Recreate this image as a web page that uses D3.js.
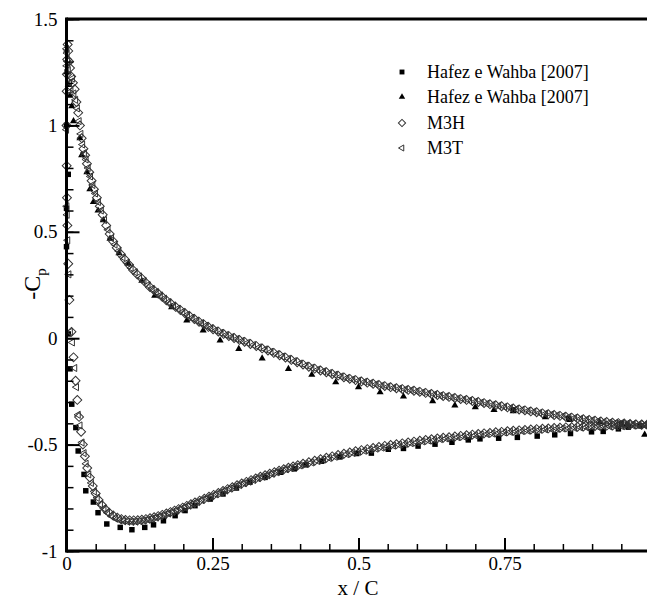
<!DOCTYPE html>
<html lang="en">
<head>
<meta charset="utf-8">
<script src="https://d3js.org/d3.v7.min.js"></script>
<style>
  body { margin: 0; background: #fff; }
  svg { display: block; }
  text { font-family: "Liberation Serif", "Times New Roman", serif; fill: #000; }
</style>
</head>
<body>
<div id="chart"></div>
<script>
// x / C and -Cp pairs
const hafezSquares = [[0.0,1.0],[0.003,0.77],[0.0,0.61],[0.0,0.43],[0.003,0.02],[0.006,-0.144],[0.009,-0.31],[0.016,-0.42],[0.020,-0.53],[0.030,-0.64],[0.033,-0.717],[0.046,-0.77],[0.054,-0.82],[0.069,-0.873],[0.092,-0.889],[0.112,-0.90],[0.134,-0.889],[0.149,-0.877],[0.166,-0.858],[0.186,-0.834],[0.203,-0.81],[0.22,-0.787],[0.246,-0.756],[0.268,-0.732],[0.291,-0.704],[0.314,-0.677],[0.34,-0.654],[0.366,-0.630],[0.39,-0.614],[0.41,-0.595],[0.437,-0.578],[0.468,-0.558],[0.497,-0.542],[0.522,-0.540],[0.551,-0.522],[0.577,-0.518],[0.602,-0.507],[0.631,-0.498],[0.66,-0.489],[0.688,-0.478],[0.708,-0.473],[0.74,-0.470],[0.772,-0.466],[0.806,-0.460],[0.836,-0.454],[0.863,-0.448],[0.899,-0.440],[0.919,-0.438],[0.945,-0.426],[0.962,-0.418],[0.982,-0.412],[0.765,-0.337],[0.86,-0.378],[0.95,-0.400]];

const hafezTriangles = [[0.0,1.25],[0.003,1.19],[0.006,1.14],[0.009,1.09],[0.012,1.02],[0.023,0.94],[0.026,0.86],[0.035,0.78],[0.040,0.70],[0.046,0.64],[0.054,0.60],[0.063,0.555],[0.0745,0.468],[0.090,0.40],[0.106,0.35],[0.129,0.27],[0.151,0.20],[0.18,0.146],[0.206,0.084],[0.234,0.037],[0.263,-0.01],[0.295,-0.05],[0.335,-0.095],[0.38,-0.144],[0.42,-0.172],[0.461,-0.207],[0.50,-0.23],[0.537,-0.254],[0.577,-0.274],[0.627,-0.296],[0.665,-0.316],[0.70,-0.324],[0.732,-0.337],[0.765,-0.343],[0.82,-0.371],[0.862,-0.384],[0.913,-0.395],[0.959,-0.406],[0.99,-0.453]];

const m3hUpper = [[0,1.00],[0.0003,1.16],[0.0007,1.24],[0.0012,1.31],[0.002,1.38],[0.003,1.35],[0.0045,1.30],[0.006,1.27],[0.008,1.23],[0.011,1.20],[0.014,1.17],[0.017,1.11],[0.020,1.06],[0.023,1.00],[0.026,0.94],[0.029,0.89],[0.032,0.86],[0.035,0.82],[0.039,0.78],[0.043,0.74],[0.047,0.70],[0.052,0.66],[0.057,0.62],[0.062,0.58],[0.068,0.53],[0.074,0.49],[0.080,0.455],[0.086,0.425],[0.093,0.395],[0.100,0.37],[0.107,0.345],[0.114,0.32],[0.121,0.30],[0.129,0.28],[0.136,0.26],[0.143,0.24],[0.150,0.225],[0.157,0.21],[0.164,0.194],[0.171,0.178],[0.179,0.162],[0.187,0.147],[0.195,0.132],[0.203,0.117],[0.211,0.103],[0.219,0.090],[0.227,0.077],[0.235,0.065],[0.243,0.053],[0.251,0.042],[0.260,0.031],[0.269,0.020],[0.278,0.010],[0.287,0.001],[0.296,-0.008],[0.305,-0.017],[0.315,-0.027],[0.325,-0.037],[0.335,-0.048],[0.345,-0.058],[0.355,-0.069],[0.365,-0.080],[0.375,-0.091],[0.385,-0.102],[0.395,-0.113],[0.405,-0.124],[0.415,-0.134],[0.425,-0.143],[0.435,-0.152],[0.445,-0.160],[0.455,-0.168],[0.465,-0.176],[0.475,-0.184],[0.485,-0.191],[0.495,-0.197],[0.505,-0.203],[0.515,-0.209],[0.525,-0.214],[0.535,-0.220],[0.545,-0.225],[0.555,-0.230],[0.565,-0.235],[0.575,-0.239],[0.585,-0.243],[0.595,-0.247],[0.605,-0.252],[0.615,-0.257],[0.625,-0.262],[0.635,-0.267],[0.645,-0.272],[0.655,-0.276],[0.665,-0.281],[0.675,-0.286],[0.685,-0.290],[0.695,-0.295],[0.705,-0.300],[0.715,-0.305],[0.725,-0.310],[0.735,-0.315],[0.745,-0.320],[0.755,-0.325],[0.765,-0.330],[0.775,-0.335],[0.785,-0.339],[0.795,-0.344],[0.805,-0.348],[0.815,-0.353],[0.825,-0.357],[0.835,-0.361],[0.845,-0.365],[0.855,-0.369],[0.865,-0.373],[0.875,-0.377],[0.885,-0.381],[0.895,-0.384],[0.905,-0.388],[0.915,-0.391],[0.925,-0.394],[0.935,-0.397],[0.945,-0.399],[0.955,-0.401],[0.965,-0.403],[0.975,-0.405],[0.985,-0.407],[0.995,-0.409]];

const m3hLower = [[0.0003,0.81],[0.0008,0.66],[0.0015,0.53],[0.003,0.35],[0.005,0.18],[0.0085,0.03],[0.012,-0.09],[0.0155,-0.20],[0.0185,-0.29],[0.0215,-0.37],[0.025,-0.44],[0.028,-0.50],[0.0315,-0.555],[0.0355,-0.61],[0.040,-0.655],[0.045,-0.695],[0.050,-0.73],[0.055,-0.76],[0.061,-0.785],[0.067,-0.805],[0.073,-0.82],[0.080,-0.833],[0.087,-0.843],[0.094,-0.85],[0.101,-0.854],[0.108,-0.856],[0.115,-0.856],[0.122,-0.855],[0.129,-0.853],[0.136,-0.85],[0.143,-0.846],[0.150,-0.841],[0.157,-0.836],[0.164,-0.83],[0.171,-0.824],[0.178,-0.817],[0.185,-0.81],[0.192,-0.803],[0.199,-0.796],[0.206,-0.788],[0.213,-0.78],[0.220,-0.772],[0.228,-0.763],[0.236,-0.754],[0.244,-0.745],[0.252,-0.736],[0.260,-0.727],[0.268,-0.718],[0.276,-0.709],[0.284,-0.700],[0.292,-0.691],[0.300,-0.683],[0.308,-0.675],[0.316,-0.667],[0.324,-0.659],[0.332,-0.651],[0.340,-0.644],[0.348,-0.637],[0.356,-0.630],[0.364,-0.623],[0.372,-0.616],[0.380,-0.609],[0.388,-0.603],[0.396,-0.597],[0.405,-0.590],[0.415,-0.583],[0.425,-0.576],[0.435,-0.569],[0.445,-0.562],[0.455,-0.555],[0.465,-0.549],[0.475,-0.543],[0.485,-0.537],[0.495,-0.531],[0.505,-0.526],[0.515,-0.521],[0.525,-0.516],[0.535,-0.511],[0.545,-0.506],[0.555,-0.502],[0.565,-0.498],[0.575,-0.494],[0.585,-0.490],[0.595,-0.486],[0.605,-0.482],[0.615,-0.478],[0.625,-0.475],[0.635,-0.471],[0.645,-0.468],[0.655,-0.465],[0.665,-0.462],[0.675,-0.459],[0.685,-0.456],[0.695,-0.453],[0.705,-0.450],[0.715,-0.447],[0.725,-0.445],[0.735,-0.442],[0.745,-0.440],[0.755,-0.437],[0.765,-0.435],[0.775,-0.433],[0.785,-0.431],[0.795,-0.429],[0.805,-0.427],[0.815,-0.425],[0.825,-0.424],[0.835,-0.422],[0.845,-0.421],[0.855,-0.419],[0.865,-0.418],[0.875,-0.416],[0.885,-0.415],[0.895,-0.414],[0.905,-0.413],[0.915,-0.412],[0.925,-0.411],[0.935,-0.410],[0.945,-0.409],[0.955,-0.408],[0.965,-0.407],[0.975,-0.406],[0.985,-0.405],[0.995,-0.404]];

const m3tUpper = [[0,1.36],[0.0005,1.28],[0.001,1.34],[0.0018,1.30],[0.003,1.26],[0.005,1.20],[0.0075,1.16],[0.010,1.22],[0.0125,1.15],[0.0155,1.12],[0.0185,1.08],[0.0215,1.02],[0.0245,0.96],[0.0275,0.91],[0.0305,0.87],[0.0335,0.84],[0.037,0.80],[0.041,0.76],[0.045,0.72],[0.0495,0.68],[0.0545,0.64],[0.0595,0.60],[0.065,0.555],[0.071,0.51],[0.077,0.47],[0.083,0.44],[0.0895,0.41],[0.0965,0.38],[0.1035,0.355],[0.1105,0.33],[0.1175,0.31],[0.125,0.29],[0.1325,0.27],[0.1395,0.25],[0.1465,0.232],[0.1535,0.217],[0.1605,0.201],[0.1675,0.186],[0.175,0.17],[0.183,0.154],[0.191,0.139],[0.199,0.124],[0.207,0.110],[0.215,0.096],[0.223,0.083],[0.231,0.071],[0.239,0.059],[0.247,0.047],[0.2555,0.036],[0.2645,0.025],[0.2735,0.015],[0.2825,0.005],[0.2915,-0.004],[0.3005,-0.013],[0.310,-0.022],[0.320,-0.032],[0.330,-0.043],[0.340,-0.053],[0.350,-0.064],[0.360,-0.075],[0.370,-0.086],[0.380,-0.097],[0.390,-0.108],[0.400,-0.119],[0.410,-0.129],[0.420,-0.139],[0.430,-0.148],[0.440,-0.156],[0.450,-0.164],[0.460,-0.172],[0.470,-0.180],[0.480,-0.188],[0.490,-0.194],[0.500,-0.200],[0.510,-0.206],[0.520,-0.212],[0.530,-0.217],[0.540,-0.223],[0.550,-0.228],[0.560,-0.233],[0.570,-0.237],[0.580,-0.241],[0.590,-0.245],[0.600,-0.250],[0.610,-0.255],[0.620,-0.260],[0.630,-0.265],[0.640,-0.270],[0.650,-0.274],[0.660,-0.279],[0.670,-0.284],[0.680,-0.288],[0.690,-0.293],[0.700,-0.298],[0.710,-0.303],[0.720,-0.308],[0.730,-0.313],[0.740,-0.318],[0.750,-0.323],[0.760,-0.328],[0.770,-0.333],[0.780,-0.337],[0.790,-0.342],[0.800,-0.346],[0.810,-0.351],[0.820,-0.355],[0.830,-0.359],[0.840,-0.363],[0.850,-0.367],[0.860,-0.371],[0.870,-0.375],[0.880,-0.379],[0.890,-0.383],[0.900,-0.386],[0.910,-0.390],[0.920,-0.393],[0.930,-0.396],[0.940,-0.398],[0.950,-0.400],[0.960,-0.402],[0.970,-0.404],[0.980,-0.406],[0.990,-0.408]];

const m3tLower = [[0,0.98],[0.0005,0.62],[0.001,0.58],[0.002,0.46],[0.004,0.30],[0.0065,0.03],[0.010,-0.02],[0.014,-0.14],[0.017,-0.23],[0.020,-0.36],[0.023,-0.41],[0.0265,-0.49],[0.030,-0.54],[0.0335,-0.59],[0.038,-0.64],[0.0425,-0.68],[0.0475,-0.72],[0.0525,-0.75],[0.058,-0.78],[0.064,-0.80],[0.070,-0.82],[0.0765,-0.835],[0.0835,-0.847],[0.0905,-0.855],[0.0975,-0.86],[0.1045,-0.862],[0.1115,-0.863],[0.1185,-0.862],[0.1255,-0.86],[0.1325,-0.857],[0.1395,-0.853],[0.1465,-0.848],[0.1535,-0.843],[0.1605,-0.837],[0.1675,-0.831],[0.1745,-0.824],[0.1815,-0.817],[0.1885,-0.81],[0.1955,-0.803],[0.2025,-0.795],[0.2095,-0.787],[0.2165,-0.779],[0.224,-0.77],[0.232,-0.761],[0.240,-0.752],[0.248,-0.743],[0.256,-0.734],[0.264,-0.725],[0.272,-0.716],[0.280,-0.707],[0.288,-0.698],[0.296,-0.690],[0.304,-0.682],[0.312,-0.674],[0.320,-0.666],[0.328,-0.658],[0.336,-0.651],[0.344,-0.644],[0.352,-0.637],[0.360,-0.630],[0.368,-0.623],[0.376,-0.616],[0.384,-0.610],[0.392,-0.604],[0.400,-0.598],[0.410,-0.591],[0.420,-0.584],[0.430,-0.577],[0.440,-0.570],[0.450,-0.563],[0.460,-0.557],[0.470,-0.551],[0.480,-0.545],[0.490,-0.539],[0.500,-0.534],[0.510,-0.529],[0.520,-0.524],[0.530,-0.519],[0.540,-0.514],[0.550,-0.509],[0.560,-0.505],[0.570,-0.501],[0.580,-0.497],[0.590,-0.493],[0.600,-0.489],[0.610,-0.485],[0.620,-0.481],[0.630,-0.478],[0.640,-0.474],[0.650,-0.471],[0.660,-0.468],[0.670,-0.465],[0.680,-0.462],[0.690,-0.459],[0.700,-0.456],[0.710,-0.453],[0.720,-0.450],[0.730,-0.448],[0.740,-0.445],[0.750,-0.443],[0.760,-0.440],[0.770,-0.438],[0.780,-0.436],[0.790,-0.434],[0.800,-0.432],[0.810,-0.430],[0.820,-0.428],[0.830,-0.427],[0.840,-0.425],[0.850,-0.424],[0.860,-0.422],[0.870,-0.421],[0.880,-0.419],[0.890,-0.418],[0.900,-0.417],[0.910,-0.416],[0.920,-0.415],[0.930,-0.414],[0.940,-0.413],[0.950,-0.412],[0.960,-0.411],[0.970,-0.410],[0.980,-0.409],[0.990,-0.408]];

const xTicks = [0, 0.25, 0.5, 0.75];
const yTicks = [-1, -0.5, 0, 0.5, 1, 1.5];
const legendNames = ["Hafez e Wahba [2007]", "Hafez e Wahba [2007]", "M3H", "M3T"];

const W = 647, H = 600;
const svg = d3.select("#chart").append("svg")
    .attr("width", W).attr("height", H);

const x = d3.scaleLinear().domain([0, 1]).range([66.5, 650.5]);
const y = d3.scaleLinear().domain([-1, 1.5]).range([551, 19]);

// marker shapes
const sq = d3.symbol().type(d3.symbolSquare);
const tri = d3.symbol().type(d3.symbolTriangle);

function drawSeries(data, path, rot, fill, stroke, sw) {
  svg.append("g").selectAll("path")
    .data(data)
    .join("path")
      .attr("d", path)
      .attr("transform", d => `translate(${x(d[0])},${y(d[1])}) rotate(${rot})`)
      .attr("fill", fill)
      .attr("stroke", stroke)
      .attr("stroke-width", sw);
}

drawSeries(hafezSquares, sq.size(30)(), 0, "#000", "none", 0);
drawSeries(hafezTriangles, tri.size(22)(), 0, "#000", "none", 0);
drawSeries(m3hUpper, sq.size(40)(), 45, "none", "#333", 1);
drawSeries(m3hLower, sq.size(40)(), 45, "none", "#333", 1);
drawSeries(m3tUpper, tri.size(22)(), -90, "none", "#333", 1);
drawSeries(m3tLower, tri.size(22)(), -90, "none", "#333", 1);

// axes, ticks pointing inwards
const gx = svg.append("g").attr("transform", `translate(0,${y(-1)})`);
gx.call(d3.axisBottom(x).tickValues(d3.range(0, 1.001, 0.05)).tickSizeInner(-7).tickSizeOuter(0).tickFormat(""));
gx.call(g => g.selectAll(".tick line").attr("stroke-width", 1.5));
const gx2 = svg.append("g").attr("transform", `translate(0,${y(-1)})`);
gx2.call(d3.axisBottom(x).tickValues(xTicks).tickSizeInner(-13).tickSizeOuter(0).tickPadding(6)
    .tickFormat(d => String(d)));
gx2.call(g => g.selectAll(".tick line").attr("stroke-width", 2));

const gy = svg.append("g").attr("transform", `translate(${x(0)},0)`);
gy.call(d3.axisLeft(y).tickValues(d3.range(-1, 1.501, 0.1)).tickSizeInner(-7).tickSizeOuter(0).tickFormat(""));
gy.call(g => g.selectAll(".tick line").attr("stroke-width", 1.5));
const gy2 = svg.append("g").attr("transform", `translate(${x(0)},0)`);
gy2.call(d3.axisLeft(y).tickValues(yTicks).tickSizeInner(-13).tickSizeOuter(0).tickPadding(9)
    .tickFormat(d => String(d)));
gy2.call(g => g.selectAll(".tick line").attr("stroke-width", 2));

svg.selectAll(".domain").remove();
svg.selectAll(".tick text")
    .style("font-family", '"Liberation Serif", serif')
    .style("font-size", "19px");

// frame
svg.append("line").attr("x1", x(0)).attr("x2", x(0)).attr("y1", y(1.5) - 1.5).attr("y2", y(-1) + 1.5)
    .attr("stroke", "#000").attr("stroke-width", 3);
svg.append("line").attr("x1", x(0)).attr("x2", W).attr("y1", y(-1)).attr("y2", y(-1))
    .attr("stroke", "#000").attr("stroke-width", 3);
svg.append("line").attr("x1", x(0)).attr("x2", W).attr("y1", y(1.5)).attr("y2", y(1.5))
    .attr("stroke", "#000").attr("stroke-width", 3);

// axis titles
svg.append("text").attr("x", 358).attr("y", 595).attr("text-anchor", "middle")
    .style("font-size", "21px").text("x / C");
const yl = svg.append("text").attr("transform", "translate(40,284) rotate(-90)")
    .attr("text-anchor", "middle").style("font-size", "24px");
yl.append("tspan").text("-C");
yl.append("tspan").attr("dy", 6).style("font-size", "15px").text("p");

// legend
const legRows = [72, 97, 123, 148];
const legShapes = [
  {d: sq.size(24)(), rot: 0, fill: "#000", stroke: "none"},
  {d: tri.size(18)(), rot: 0, fill: "#000", stroke: "none"},
  {d: sq.size(26)(), rot: 45, fill: "none", stroke: "#333"},
  {d: tri.size(16)(), rot: -90, fill: "none", stroke: "#333"}
];
legendNames.forEach((name, i) => {
  svg.append("path").attr("d", legShapes[i].d)
    .attr("transform", `translate(402,${legRows[i]}) rotate(${legShapes[i].rot})`)
    .attr("fill", legShapes[i].fill).attr("stroke", legShapes[i].stroke).attr("stroke-width", 1);
  svg.append("text").attr("x", 427).attr("y", legRows[i] + 6)
    .style("font-size", "18px").text(name);
});
</script>
</body>
</html>
